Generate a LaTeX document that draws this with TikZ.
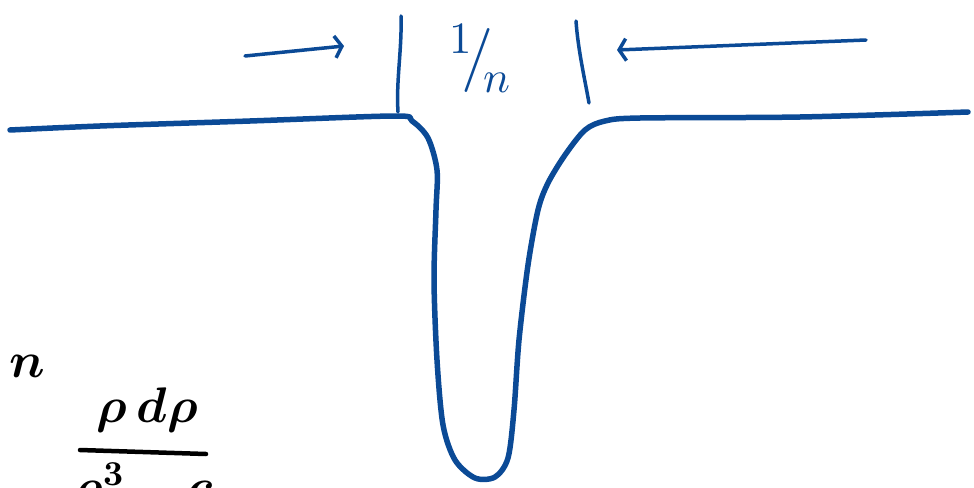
\documentclass[tikz,border=0pt]{standalone}
\usepackage{unicode-math}
\setmathfont{Latin Modern Math}
\usetikzlibrary{arrows.meta}
\definecolor{inkblue}{HTML}{0B4A96}
\begin{document}
\begin{tikzpicture}[x=1pt,y=-1pt,
  ink/.style={draw=inkblue,line width=5.5pt,line cap=round,line join=round},
  thinink/.style={draw=inkblue,line width=3.5pt,line cap=round},
  arr/.style={thinink,-{Straight Barb[length=7pt,width=22pt,line width=3.5pt]}},
  bluetxt/.style={text=inkblue,font=\fontsize{64}{64}\selectfont,inner sep=0pt},
  blacktxt/.style={text=black,font=\fontsize{50}{50}\selectfont,inner sep=0pt}]
\useasboundingbox (0,0) rectangle (974,487);
\clip (0,0) rectangle (974,487);
% profile
\draw[ink] plot[smooth,tension=0.5] coordinates {(10,130) (100,126) (250,121) (395,116)
  (412,121) (428,138) (437,170) (436,210) (434,280) (437,360) (443,425) (455,460) (475,478)
  (495,477) (508,458) (514,410) (519,340) (528,265) (538,210) (548,183) (565,155) (585,130)
  (605,121) (640,118) (800,117) (968,112)};
% bars
\coordinate (lb1) at (401,16); \coordinate (lb2) at (398,112);
\coordinate (rb1) at (576,21); \coordinate (rb2) at (589,103);
\draw[thinink] (lb1) .. controls (402,50) and (396,80) .. (lb2);
\draw[thinink] (rb1) .. controls (578,50) and (585,80) .. (rb2);
% arrows
\coordinate (la1) at (245,56); \coordinate (la2) at (344,46);
\coordinate (ra1) at (866,40); \coordinate (ra2) at (617,50);
\draw[arr] (la1) -- (la2);
\draw[arr] (ra1) -- (ra2);
% label
\node[bluetxt] (lbl) at (480,58) {$^{1}\!/\!_{n}$};
% black formula
\node[blacktxt] (nn) at (27,366) {$\symbfit{n}$};
\node[blacktxt] (num) at (148,410) {$\symbfit{\rho\,d\rho}$};
\coordinate (fb1) at (80,450); \coordinate (fb2) at (206,454);
\draw[line width=4.5pt,line cap=round] (fb1) -- (fb2);
\node[blacktxt,anchor=north west] (den) at (72,462) {$\symbfit{\rho}^{\symbf{3}}\quad\;\symbfit{c}$};
\end{tikzpicture}
\end{document}
